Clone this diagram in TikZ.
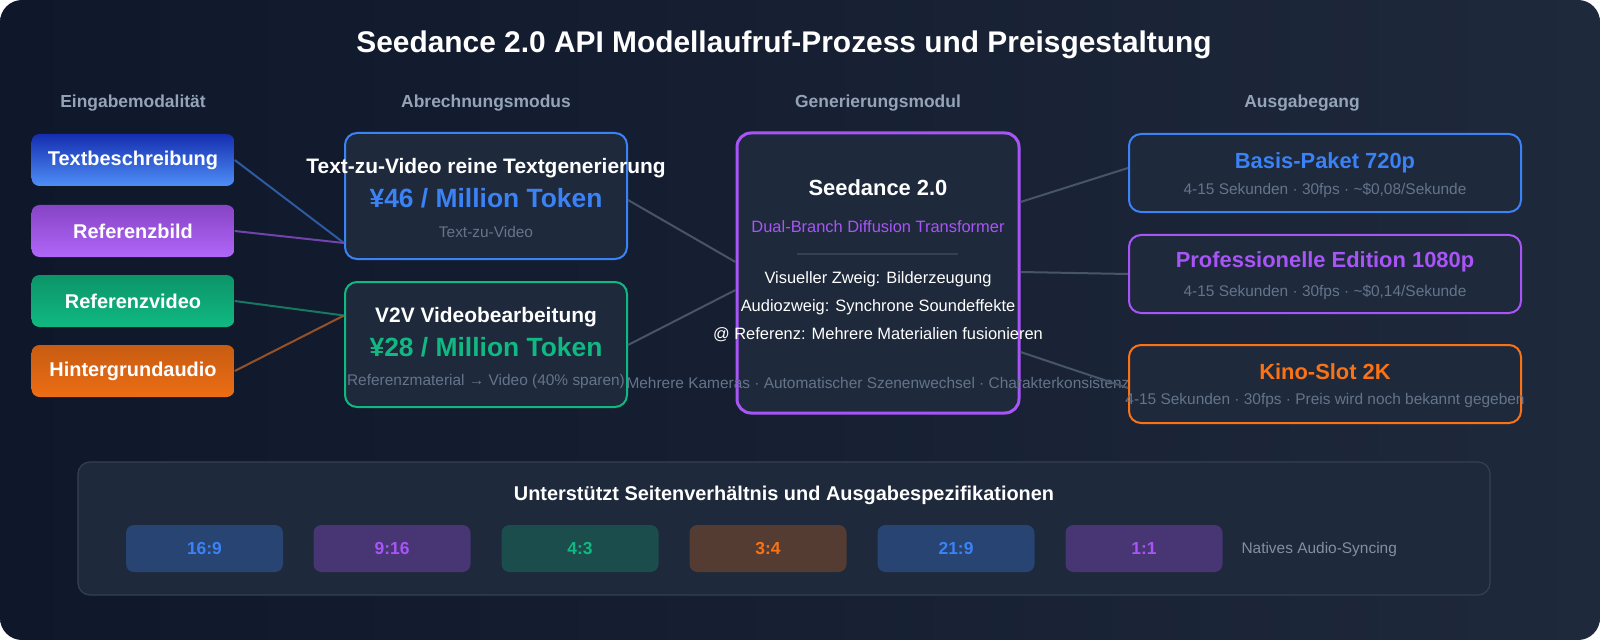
\documentclass[tikz,border=0pt]{standalone}
\usepackage{fontspec}
\setmainfont{Liberation Sans}
\usetikzlibrary{calc}
\definecolor{bgA}{HTML}{0F172A}
\definecolor{bgB}{HTML}{1E293B}
\definecolor{card}{HTML}{1E293B}
\definecolor{cblue}{HTML}{3B82F6}
\definecolor{cpurple}{HTML}{A855F7}
\definecolor{cgreen}{HTML}{10B981}
\definecolor{corange}{HTML}{F97316}
\definecolor{cgray}{HTML}{94A3B8}
\definecolor{cdim}{HTML}{64748B}
\definecolor{cline}{HTML}{475569}
\definecolor{cborder}{HTML}{334155}
\begin{document}
\begin{tikzpicture}[x=1bp,y=-1bp,
  inbox/.style={rounded corners=8bp,minimum width=203bp,minimum height=52bp,text=white,font=\bfseries\fontsize{20}{22}\selectfont,inner sep=0},
  card/.style={draw,line width=2bp,fill=card,rounded corners=12bp,inner sep=0},
  hdr/.style={text=cgray,font=\bfseries\fontsize{17.5}{19}\selectfont},
  sub/.style={text=cdim,font=\fontsize{15.5}{17}\selectfont},
  wt/.style={text=white,font=\fontsize{16.5}{18}\selectfont},
  chip/.style={rounded corners=8bp,minimum width=157bp,minimum height=47bp,inner sep=0,font=\bfseries\fontsize{17.5}{19}\selectfont},
  conn/.style={line width=2bp,cline}]
\useasboundingbox (0,0) rectangle (1600,640);
\shade[rounded corners=22bp,left color=bgA,right color=bgB] (0,0) rectangle (1600,640);
\node[text=white,font=\bfseries\fontsize{30}{34}\selectfont] (title) at (784,45) {Seedance 2.0 API Modellaufruf-Prozess und Preisgestaltung};
\node[hdr] (h1) at (133,103) {Eingabemodalität};
\node[hdr] (h2) at (486,103) {Abrechnungsmodus};
\node[hdr] (h3) at (878,103) {Generierungsmodul};
\node[hdr] (h4) at (1302,103) {Ausgabegang};
\node[inbox,top color=blue!50!cblue!70!black,bottom color=cblue!90!white] (tb) at (133,160) {Textbeschreibung};
\node[inbox,top color=cpurple!80!black,bottom color=cpurple!90!white] (rb) at (133,231) {Referenzbild};
\node[inbox,top color=cgreen!80!black,bottom color=cgreen] (rv) at (133,301) {Referenzvideo};
\node[inbox,top color=corange!80!black,bottom color=corange!95!black] (ha) at (133,371) {Hintergrundaudio};
\node[card,draw=cblue,minimum width=282bp,minimum height=126bp] (t2v) at (486,196) {};
\node[card,draw=cgreen,minimum width=282bp,minimum height=125bp] (v2v) at (486,344.5) {};
\node[card,draw=cpurple,line width=3bp,minimum width=282bp,minimum height=280bp,rounded corners=14bp] (gen) at (878,273) {};
\draw[conn,cblue!55!card] (tb.east) -- ([yshift=-47bp]t2v.west);
\draw[conn,cpurple!60!card] (rb.east) -- ([yshift=-47bp]t2v.west);
\draw[conn,cgreen!55!card] (rv.east) -- ([yshift=-34.5bp]v2v.north west);
\draw[conn,corange!55!card] (ha.east) -- ([yshift=-34.5bp]v2v.north west);
\draw[conn] ([yshift=-4bp]t2v.east) -- ([yshift=11bp]gen.west);
\draw[conn] ([yshift=-0.5bp]v2v.east) -- ([yshift=-17bp]gen.west);
\node[text=white,font=\bfseries\fontsize{21}{23}\selectfont] (t2vt) at (486,168) {Text-zu-Video reine Textgenerierung};
\node[text=cblue,font=\bfseries\fontsize{26.5}{29}\selectfont] (t2vp) at (486,198) {¥46 / Million Token};
\node[sub] (t2vs) at (486,232) {Text-zu-Video};
\node[text=white,font=\bfseries\fontsize{21}{23}\selectfont] (v2vt) at (486,317) {V2V Videobearbeitung};
\node[text=cgreen,font=\bfseries\fontsize{26.5}{29}\selectfont] (v2vp) at (486,347) {¥28 / Million Token};
\node[sub] (v2vs) at (486,382) {Referenzmaterial → Video (40\% sparen)};
\node[text=white,font=\bfseries\fontsize{22}{24}\selectfont] (gt) at (878,188) {Seedance 2.0};
\node[text=cpurple,font=\fontsize{16.5}{18}\selectfont] (gs) at (878,227) {Dual-Branch Diffusion Transformer};
\draw[cborder,line width=1.5bp] (797,254) -- (958,254);
\node[wt] (g1) at (878,279) {Visueller Zweig: Bilderzeugung};
\node[wt] (g2) at (878,307) {Audiozweig: Synchrone Soundeffekte};
\node[wt] (g3) at (878,335) {@ Referenz: Mehrere Materialien fusionieren};
\node[sub] (g4) at (878,383) {Mehrere Kameras · Automatischer Szenenwechsel · Charakterkonsistenz};
\node[card,draw=cblue,minimum width=392bp,minimum height=78bp] (o1) at (1325,173) {};
\node[card,draw=cpurple,minimum width=392bp,minimum height=78bp] (o2) at (1325,274) {};
\node[card,draw=corange,minimum width=392bp,minimum height=78bp] (o3) at (1325,384) {};
\draw[conn] ([yshift=71bp]gen.east) -- ([yshift=5bp]o1.west);
\draw[conn] ([yshift=1bp]gen.east) -- (o2.west);
\draw[conn] ([yshift=-79bp]gen.east) -- ([yshift=-4bp]o3.west);
\node[text=cblue,font=\bfseries\fontsize{22}{24}\selectfont] (o1t) at (1325,163) {Basis-Paket 720p};
\node[sub] (o1s) at (1325,190) {4-15 Sekunden · 30fps · \textasciitilde\$0,08/Sekunde};
\node[text=cpurple,font=\bfseries\fontsize{22}{24}\selectfont] (o2t) at (1325,262) {Professionelle Edition 1080p};
\node[sub] (o2s) at (1325,292) {4-15 Sekunden · 30fps · \textasciitilde\$0,14/Sekunde};
\node[text=corange,font=\bfseries\fontsize{22}{24}\selectfont] (o3t) at (1325,372) {Kino-Slot 2K};
\node[sub] (o3s) at (1325,401) {4-15 Sekunden · 30fps · Preis wird noch bekannt gegeben};
\node[draw=cborder,line width=1.2bp,fill=card,rounded corners=12bp,minimum width=1412bp,minimum height=133bp] (panel) at (784,528.5) {};
\node[text=white,font=\bfseries\fontsize{20}{22}\selectfont] (pt) at (784,495) {Unterstützt Seitenverhältnis und Ausgabespezifikationen};
\node[chip,fill=cblue!30!card,text=cblue] (c1) at (204.5,548.5) {16:9};
\node[chip,fill=cpurple!30!card,text=cpurple] (c2) at (392,548.5) {9:16};
\node[chip,fill=cgreen!25!card,text=cgreen] (c3) at (580,548.5) {4:3};
\node[chip,fill=corange!25!card,text=corange] (c4) at (768,548.5) {3:4};
\node[chip,fill=cblue!30!card,text=cblue] (c5) at (956,548.5) {21:9};
\node[chip,fill=cpurple!30!card,text=cpurple] (c6) at (1144,548.5) {1:1};
\node[sub,anchor=west,text=cdim!80!white] (nat) at (1238,550) {Natives Audio-Syncing};
\end{tikzpicture}
\end{document}
